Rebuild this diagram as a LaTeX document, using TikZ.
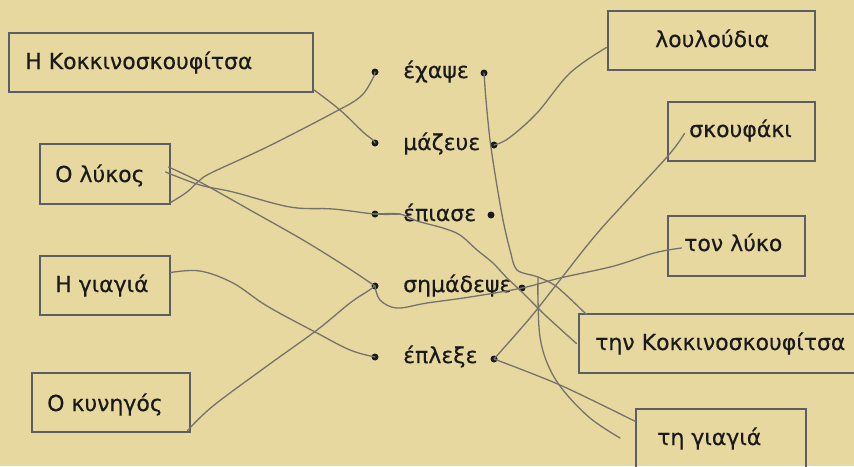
\documentclass[tikz,border=0pt]{standalone}
\usepackage{fontspec}
\setmainfont{DejaVu Sans}[FakeBold=0.4]
\usetikzlibrary{calc}
\definecolor{bg}{HTML}{E7D8A0}
\definecolor{boxc}{HTML}{5C5E66}
\definecolor{penc}{HTML}{75726B}
\definecolor{txt}{HTML}{1A1A1A}
\begin{document}
\begin{tikzpicture}[x=1pt,y=-1pt,
  box/.style={draw=boxc, line width=1.1pt, inner sep=0pt},
  lbl/.style={anchor=base west, inner sep=0pt, font=\fontsize{22}{26}\selectfont, text=txt},
  dotn/.style={circle, fill=txt, inner sep=0pt, minimum size=7pt},
  pencil/.style={draw=penc, line width=1.3pt, line cap=round, line join=round}]
\useasboundingbox (0,0) rectangle (854,466);
\fill[bg] (0,0) rectangle (854,466);
\clip (0,0) rectangle (854,466);

% left boxes
\node[box, minimum width=304pt, minimum height=59pt] (A1) at (161,62.5) {};
\node[box, minimum width=130pt, minimum height=60pt] (A2) at (105,174) {};
\node[box, minimum width=130pt, minimum height=59pt] (A3) at (105,285.5) {};
\node[box, minimum width=158pt, minimum height=59pt] (A4) at (111,402.5) {};
\node[lbl] (tA1) at (25,69) {Η Κοκκινοσκουφίτσα};
\node[lbl] (tA2) at (55,182) {Ο λύκος};
\node[lbl] (tA3) at (55,292) {Η γιαγιά};
\node[lbl] (tA4) at (47,411) {Ο κυνηγός};

% right boxes
\node[box, minimum width=207pt, minimum height=59pt] (B1) at (711.5,40.5) {};
\node[box, minimum width=147pt, minimum height=59pt] (B2) at (741.5,131.5) {};
\node[box, minimum width=137pt, minimum height=60pt] (B3) at (736.5,246) {};
\node[box, minimum width=281pt, minimum height=59pt] (B4) at (719.5,343.5) {};
\node[box, minimum width=170pt, minimum height=71pt] (B5) at (721,444.5) {};
\node[lbl] (tB1) at (655,47) {λουλούδια};
\node[lbl] (tB2) at (689,137) {σκουφάκι};
\node[lbl] (tB3) at (684,251) {τον λύκο};
\node[lbl] (tB4) at (595,350) {την Κοκκινοσκουφίτσα};
\node[lbl] (tB5) at (657,445) {τη γιαγιά};

% middle words
\node[lbl] (w1) at (403,78) {έχαψε};
\node[lbl] (w2) at (403,150) {μάζευε};
\node[lbl] (w3) at (403,221) {έπιασε};
\node[lbl] (w4) at (403,292) {σημάδεψε};
\node[lbl] (w5) at (403,363) {έπλεξε};

% dots
\node[dotn] (dl1) at (375,72) {};
\node[dotn] (dr1) at (484,73) {};
\node[dotn] (dl2) at (375,143) {};
\node[dotn] (dr2) at (494,145) {};
\node[dotn] (dl3) at (375,214) {};
\node[dotn] (dr3) at (491,215) {};
\node[dotn] (dl4) at (375,286) {};
\node[dotn] (dr4) at (522,288) {};
\node[dotn] (dl5) at (375,357) {};
\node[dotn] (dr5) at (494,359) {};

\coordinate (J) at (538,277);

% pencil connectors
\draw[pencil] plot[smooth, tension=0.6] coordinates {($(A1.south east)+(0,-3)$) (340,110) (363,132) (373,140) (dl2)};
\draw[pencil] plot[smooth, tension=0.6] coordinates {($(A2.south east)+(0,-2)$) (187,192) (200,180) (213,172) (267,147) (333,113) (360,97) (372,80) (dl1)};
\draw[pencil] plot[smooth, tension=0.6] coordinates {($(A2.east)+(-5,-2)$) (200,185) (233,192) (290,207) (333,209) (dl3) (400,214)};
\draw[pencil] plot[smooth, tension=0.5] coordinates {(dl3) (400,214) (417,221) (443,228) (460,235) (477,250) (493,263) (507,278) (522,292) (545,315) ($(B4.west)+(-2,0)$)};
\draw[pencil] plot[smooth, tension=0.6] coordinates {($(A2.east)+(-2,-7)$) (200,182) (250,210) (303,240) (345,266) (dl4)};
\draw[pencil] plot[smooth, tension=0.6] coordinates {($(A3.east)+(0,-13)$) (200,271) (233,283) (267,306) (317,333) (350,350) (dl5)};
\draw[pencil] plot[smooth, tension=0.6] coordinates {($(A4.south east)+(-3,-2)$) (213,406) (267,366) (317,330) (350,303) (368,291) (dl4)};
\draw[pencil] plot[smooth, tension=0.6] coordinates {(dl4) (380,300) (397,308) (427,303) (470,297) (dr4) (560,278) (614,266) (654,253) ($(B3.west)+(14,2)$)};
\draw[pencil] plot[smooth, tension=0.6] coordinates {(dr2) (509,138) (537,113) (570,73) ($(B1.west)+(-1,7)$)};
\draw[pencil] plot[smooth, tension=0.5] coordinates {(dr1) (486,100) (490,140) (496,180) (503,220) (510,250) (517,270) (J) (557,287) ($(B4.north west)+(8,1)$)};
\draw[pencil] plot[smooth, tension=0.6] coordinates {(J) (538,300) (540,337) (548,365) (563,390) (590,418) (620,438)};
\draw[pencil] plot[smooth, tension=0.5] coordinates {($(B2.west)+(17,2)$) (667,157) (600,230) (560,280) (530,318) (dr5)};
\draw[pencil] plot[smooth, tension=0.5] coordinates {(dr5) (560,385) ($(B5.north west)+(0,13)$)};
\end{tikzpicture}
\end{document}
